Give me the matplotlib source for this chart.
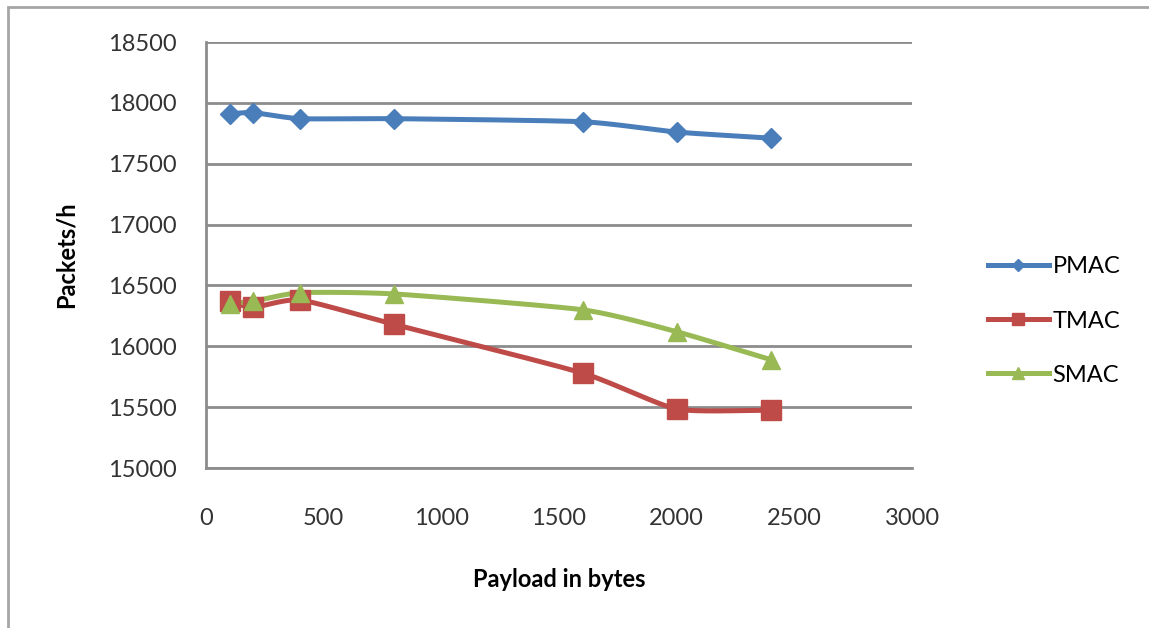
import numpy as np
import matplotlib
matplotlib.use('Agg')
import matplotlib.pyplot as plt
from matplotlib.patches import Rectangle

payload = [100, 200, 400, 800, 1600, 2000, 2400]
pmac = [17910, 17920, 17870, 17870, 17845, 17760, 17710]
tmac = [16370, 16320, 16380, 16180, 15780, 15485, 15475]
smac = [16350, 16370, 16440, 16430, 16300, 16120, 15890]

x_ticks = [0, 500, 1000, 1500, 2000, 2500, 3000]
y_ticks = [15000, 15500, 16000, 16500, 17000, 17500, 18000, 18500]

plt.rcParams['font.family'] = ['Lato', 'DejaVu Sans']


def smooth(xs, ys, n=30):
    # catmull-rom curve through the points, like a spreadsheet "smoothed line"
    xs = np.asarray(xs, float)
    ys = np.asarray(ys, float)
    px = np.concatenate([[2 * xs[0] - xs[1]], xs, [2 * xs[-1] - xs[-2]]])
    py = np.concatenate([[2 * ys[0] - ys[1]], ys, [2 * ys[-1] - ys[-2]]])
    out_x, out_y = [], []
    t = np.linspace(0, 1, n)
    for i in range(1, len(px) - 2):
        for p, out in ((px, out_x), (py, out_y)):
            p0, p1, p2, p3 = p[i - 1], p[i], p[i + 1], p[i + 2]
            m1 = (p2 - p0) / 2 * 0.6
            m2 = (p3 - p1) / 2 * 0.6
            h00 = 2 * t**3 - 3 * t**2 + 1
            h10 = t**3 - 2 * t**2 + t
            h01 = -2 * t**3 + 3 * t**2
            h11 = t**3 - t**2
            out.extend(h00 * p1 + h10 * m1 + h01 * p2 + h11 * m2)
    return out_x, out_y


fig = plt.figure(figsize=(11.49, 6.28), dpi=100)
# chart frame
fig.patches.append(Rectangle((8 / 1149, -0.05), 1.2, 1 - 7 / 628 + 0.05,
                             transform=fig.transFigure, fill=False,
                             edgecolor='#a6a6a6', linewidth=2))

ax = fig.add_axes([206 / 1149, 1 - 468 / 628, 706 / 1149, 426 / 628])

series = [('PMAC', pmac, '#4a7ebb', 'D', 10),
          ('TMAC', tmac, '#be4b48', 's', 14),
          ('SMAC', smac, '#98b954', '^', 13)]
for name, vals, col, mk, ms in series:
    sx, sy = smooth(payload, vals)
    ax.plot(sx, sy, color=col, linewidth=3.6, zorder=3)
    ax.plot(payload, vals, linestyle='none', marker=mk, markersize=ms,
            color=col, zorder=4)
    ax.plot([], [], color=col, linewidth=3.6, marker=mk, markersize=ms * 0.65,
            label=name)

ax.set_xlim(0, 3000)
ax.set_ylim(15000, 18500)
ax.set_xticks(x_ticks)
ax.set_yticks(y_ticks)
ax.grid(axis='y', color='#8c8c8c', linewidth=2)
ax.set_axisbelow(True)
for s in ['top', 'right']:
    ax.spines[s].set_visible(False)
for s in ['left', 'bottom']:
    ax.spines[s].set_color('#8c8c8c')
    ax.spines[s].set_linewidth(2)
ax.tick_params(length=0, labelsize=17, colors='#333333', pad=21)
ax.tick_params(axis='x', pad=29)

ax.set_xlabel('Payload in bytes', fontsize=17, fontweight='bold', labelpad=28)
ax.set_ylabel('Packets/h', fontsize=17, fontweight='bold', labelpad=22)

ax.legend(loc='center left', bbox_to_anchor=(1.077, 0.345), frameon=False,
          fontsize=17, handlelength=2.6, labelspacing=1.4, handletextpad=0.15)

fig.savefig('out.png', dpi=100)
